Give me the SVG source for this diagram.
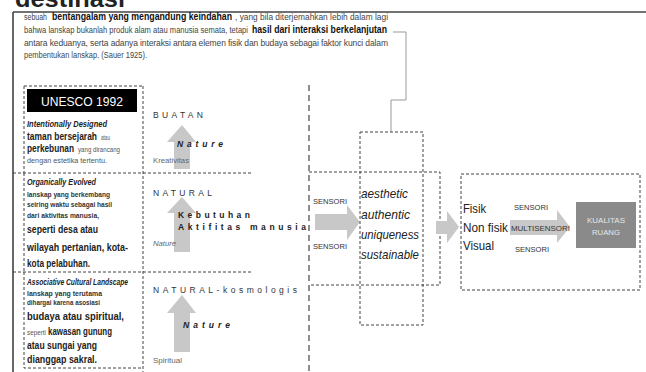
<svg xmlns="http://www.w3.org/2000/svg" width="646" height="372" viewBox="0 0 646 372">
<style>
text{font-family:"Liberation Sans",Arial,sans-serif;fill:#333}
.p{font-size:8.5px;fill:#444}
.pb{font-size:11px;font-weight:bold;fill:#111}
.h{font-size:9px;font-weight:bold;font-style:italic;fill:#222}
.s{font-size:7.5px;fill:#555}
.sb{font-size:7.5px;font-weight:bold;fill:#333}
.m{font-size:11px;font-weight:bold;fill:#222}
.sp{font-size:8.5px;fill:#333}
.nat{font-size:8.5px;font-weight:bold;font-style:italic;fill:#222}
.lbl{font-size:8px;fill:#666}
.it{font-size:13px;font-style:italic;fill:#222}
.rt{font-size:13px;fill:#222}
.sen{font-size:8px;fill:#333}
.d{fill:none;stroke:#444;stroke-width:1;stroke-dasharray:3,2}
.dl{fill:none;stroke:#444;stroke-width:1.2;stroke-dasharray:6,4}
.arr{fill:#c8c8c8}
</style>
<text x="15" y="7" style="font-size:24px;font-weight:bold;fill:#222" textLength="110" lengthAdjust="spacingAndGlyphs">destinasi</text>
<g id="frame">
<path d="M13,12 H646 M13,12 V372" fill="none" stroke="#444" stroke-width="1.6"/>
</g>
<g id="intro">
<text class="p" x="24" y="20" textLength="23" lengthAdjust="spacingAndGlyphs">sebuah</text>
<text class="pb" x="52" y="20" textLength="180" lengthAdjust="spacingAndGlyphs">bentangalam yang mengandung keindahan</text>
<text class="p" x="235" y="20" textLength="153" lengthAdjust="spacingAndGlyphs">, yang bila diterjemahkan lebih dalam lagi</text>
<text class="p" x="24" y="33" textLength="224" lengthAdjust="spacingAndGlyphs">bahwa lanskap bukanlah produk alam atau manusia semata, tetapi</text>
<text class="pb" x="252" y="33" textLength="135" lengthAdjust="spacingAndGlyphs">hasil dari interaksi berkelanjutan</text>
<text class="p" x="24" y="46" textLength="364" lengthAdjust="spacing">antara keduanya, serta adanya interaksi antara elemen fisik dan budaya sebagai faktor kunci dalam</text>
<text class="p" x="24" y="58" textLength="123" lengthAdjust="spacingAndGlyphs">pembentukan lanskap. (Sauer 1925).</text>
</g>
<g id="connectors">
<polyline points="393,32 406,32 406,100 391,100 391,132" fill="none" stroke="#999" stroke-width="1"/>
<path class="d" d="M24,86 H143 M24,86 V173 M143,86 V372 M13,173 H251 M24,173 V272 M13,272 H252 M24,272 V368 H143"/>
<path class="dl" d="M309,85 V372"/>
<polyline class="d" points="309,172 440,172 440,285 309,285"/>
</g>
<g id="unesco">
<rect x="27" y="89" width="110" height="23" fill="#000"/>
<text x="82" y="106" text-anchor="middle" style="font-size:13px;fill:#fff" textLength="82" lengthAdjust="spacingAndGlyphs">UNESCO 1992</text>
<text class="h" x="27" y="127" textLength="80" lengthAdjust="spacingAndGlyphs">Intentionally Designed</text>
<text class="m" x="27" y="140" textLength="70" lengthAdjust="spacingAndGlyphs">taman bersejarah</text>
<text class="s" x="101" y="140" textLength="9" lengthAdjust="spacingAndGlyphs">atau</text>
<text class="m" x="27" y="152" textLength="47" lengthAdjust="spacingAndGlyphs">perkebunan</text>
<text class="s" x="78" y="152" textLength="42" lengthAdjust="spacingAndGlyphs">yang dirancang</text>
<text class="s" x="27" y="163" textLength="80" lengthAdjust="spacingAndGlyphs">dengan estetika tertentu.</text>
</g>
<g id="organic">
<text class="h" x="27" y="185" textLength="69" lengthAdjust="spacingAndGlyphs">Organically Evolved</text>
<text class="sb" x="27" y="197" textLength="83" lengthAdjust="spacingAndGlyphs">lanskap yang berkembang</text>
<text class="sb" x="27" y="207" textLength="85" lengthAdjust="spacingAndGlyphs">seiring waktu sebagai hasil</text>
<text class="sb" x="27" y="218" textLength="72" lengthAdjust="spacingAndGlyphs">dari aktivitas manusia,</text>
<text class="m" x="27" y="233" textLength="71" lengthAdjust="spacingAndGlyphs">seperti desa atau</text>
<text class="m" x="27" y="251" textLength="101" lengthAdjust="spacingAndGlyphs">wilayah pertanian, kota-</text>
<text class="m" x="27" y="267" textLength="63" lengthAdjust="spacingAndGlyphs">kota pelabuhan.</text>
</g>
<g id="associative">
<text class="h" x="27" y="285" textLength="101" lengthAdjust="spacingAndGlyphs">Associative Cultural  Landscape</text>
<text class="sb" x="27" y="296" textLength="75" lengthAdjust="spacingAndGlyphs">lanskap yang terutama</text>
<text class="sb" x="27" y="305" textLength="73" lengthAdjust="spacingAndGlyphs">dihargai karena asosiasi</text>
<text class="m" x="27" y="320" textLength="97" lengthAdjust="spacingAndGlyphs">budaya atau spiritual,</text>
<text class="s" x="27" y="335" textLength="19" lengthAdjust="spacingAndGlyphs">seperti</text>
<text class="m" x="48" y="335" textLength="64" lengthAdjust="spacingAndGlyphs">kawasan gunung</text>
<text class="m" x="27" y="349" textLength="70" lengthAdjust="spacingAndGlyphs">atau sungai yang</text>
<text class="m" x="27" y="363" textLength="70" lengthAdjust="spacingAndGlyphs">dianggap sakral.</text>
</g>
<g id="buatan">
<polygon class="arr" points="182,125 196,142 190,142 190,169 174,169 174,142 167,142"/>
<text class="sp" x="153" y="118" textLength="50" lengthAdjust="spacing">BUATAN</text>
<text class="nat" x="177" y="147" textLength="46" lengthAdjust="spacing">Nature</text>
<text class="lbl" x="153" y="163" textLength="36" lengthAdjust="spacingAndGlyphs">Kreativitas</text>
</g>
<g id="natural">
<polygon class="arr" points="182,197 196,213 190,213 190,252 174,252 174,213 167,213"/>
<text class="sp" x="153" y="196" textLength="59" lengthAdjust="spacing">NATURAL</text>
<text class="nat" x="178" y="218" textLength="72" lengthAdjust="spacing" style="font-style:normal">Kebutuhan</text>
<text class="nat" x="178" y="230" textLength="128" lengthAdjust="spacing" style="font-style:normal">Aktifitas  manusia</text>
<text class="lbl" x="153" y="246" textLength="23" lengthAdjust="spacingAndGlyphs" style="font-style:italic">Nature</text>
</g>
<g id="kosmologis">
<polygon class="arr" points="182,295 196,313 190,313 190,352 174,352 174,313 167,313"/>
<text class="sp" x="153" y="293" textLength="144" lengthAdjust="spacing">NATURAL-kosmologis</text>
<text class="nat" x="183" y="328" textLength="47" lengthAdjust="spacing">Nature</text>
<text class="lbl" x="153" y="363" textLength="29" lengthAdjust="spacingAndGlyphs">Spiritual</text>
</g>
<g id="sensori">
<polygon class="arr" points="315,214 347,214 347,205 360,222 347,240 347,230 315,230"/>
<text class="sen" x="313" y="204" textLength="34" lengthAdjust="spacingAndGlyphs">SENSORI</text>
<text class="sen" x="313" y="249" textLength="34" lengthAdjust="spacingAndGlyphs">SENSORI</text>
</g>
<g id="values">
<rect class="d" x="360" y="132" width="63" height="193"/>
<text class="it" x="361" y="198" textLength="47" lengthAdjust="spacingAndGlyphs">aesthetic</text>
<text class="it" x="361" y="219" textLength="49" lengthAdjust="spacingAndGlyphs">authentic</text>
<text class="it" x="361" y="239" textLength="58" lengthAdjust="spacingAndGlyphs">uniqueness</text>
<text class="it" x="361" y="259" textLength="58" lengthAdjust="spacingAndGlyphs">sustainable</text>
</g>
<g id="arrow-mid">
<polygon class="arr" points="436,221 447,221 447,211 459,227 447,243 447,234 436,234"/>
</g>
<g id="outcome">
<rect class="d" x="461" y="174" width="179" height="116"/>
<text class="rt" x="463" y="213" textLength="23" lengthAdjust="spacingAndGlyphs">Fisik</text>
<text class="rt" x="463" y="232" textLength="45" lengthAdjust="spacingAndGlyphs">Non fisik</text>
<text class="rt" x="463" y="250" textLength="31" lengthAdjust="spacingAndGlyphs">Visual</text>
<polygon class="arr" points="510,220 557,220 557,210 570,227 557,243 557,235 510,235"/>
<text class="sen" x="514" y="210" textLength="34" lengthAdjust="spacingAndGlyphs">SENSORI</text>
<text class="sen" x="511" y="231" textLength="59" lengthAdjust="spacingAndGlyphs">MULTISENSORI</text>
<text class="sen" x="515" y="252" textLength="34" lengthAdjust="spacingAndGlyphs">SENSORI</text>
</g>
<g id="kualitas">
<rect x="576" y="202" width="60" height="46" fill="#8a8a8a"/>
<text x="606" y="223" text-anchor="middle" style="font-size:8px;fill:#e8e8e8" textLength="38" lengthAdjust="spacingAndGlyphs">KUALITAS</text>
<text x="606" y="235" text-anchor="middle" style="font-size:8px;fill:#e8e8e8" textLength="28" lengthAdjust="spacingAndGlyphs">RUANG</text>
</g>
</svg>
